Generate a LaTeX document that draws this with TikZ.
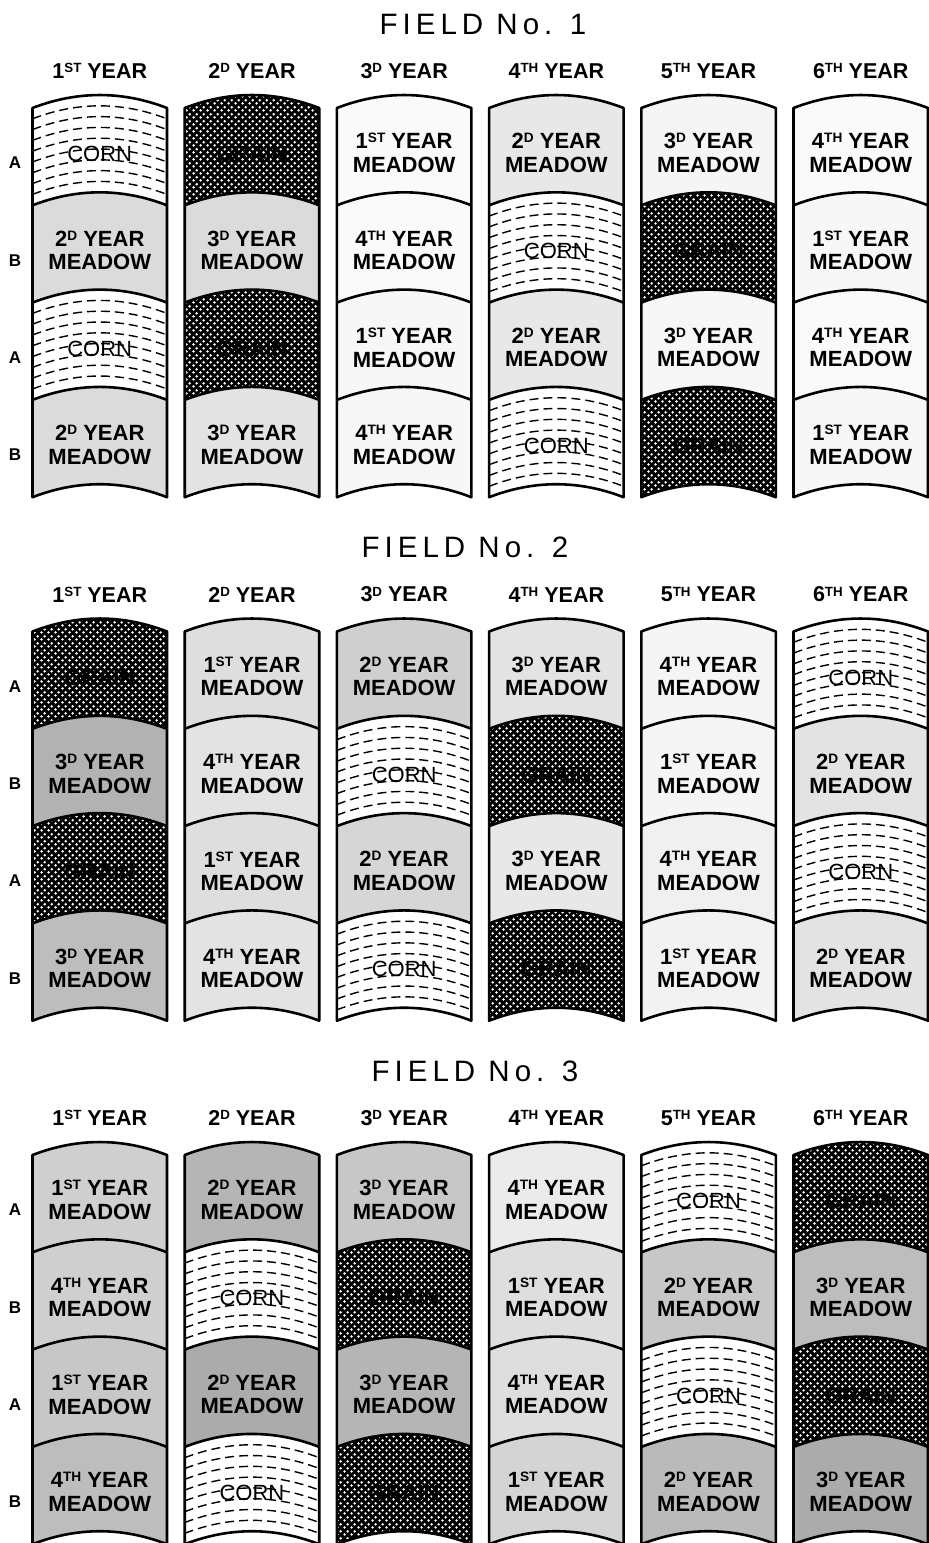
\documentclass[tikz,border=0pt]{standalone}
\usepackage{fontspec}
\setmainfont{Liberation Sans}
\newfontfamily\titlefont[LetterSpace=17]{Liberation Sans}
\usepackage{graphicx}
\usetikzlibrary{patterns}

% white holes of the grain screen
\pgfdeclarepatternformonly{grainnet}{\pgfqpoint{0pt}{0pt}}{\pgfqpoint{6.6pt}{6.6pt}}{\pgfqpoint{6.6pt}{6.6pt}}{%
  \pgfpathcircle{\pgfqpoint{1.65pt}{1.65pt}}{1.45pt}%
  \pgfpathcircle{\pgfqpoint{4.95pt}{4.95pt}}{1.45pt}%
  \pgfusepath{fill}}

% small raised letters of 1ST, 2D, 4TH ...
\newcommand{\upc}[1]{\raisebox{0.272em}{\scalebox{0.62}{#1}}}

% one cell of a strip, left edge \L, top edge \Y
\newcommand{\cellpath}{(\L,\Y) .. controls (\L+44.8,\Y-17.3) and (\L+89.7,\Y-17.3) .. (\L+134.5,\Y)
  -- (\L+134.5,\Y+97.3) .. controls (\L+89.7,\Y+80) and (\L+44.8,\Y+80) .. (\L,\Y+97.3) -- cycle}
\newcommand{\cellname}{c\F-\cid-\rid}

\newcommand{\corn}{%
  \fill[white] \cellpath;
  \foreach \k in {1,...,8}
    \draw[cornline] (\L,\Y+10.8*\k) .. controls (\L+44.8,\Y+10.8*\k-17.3)
      and (\L+89.7,\Y+10.8*\k-17.3) .. (\L+134.5,\Y+10.8*\k);
  \node[corntext] (\cellname) at (\L+67.25,\Y+46) {CORN};}
\newcommand{\grain}{%
  \fill[black] \cellpath;
  \fill[pattern=grainnet,pattern color=white] \cellpath;
  \node[graintext] (\cellname) at (\L+67.25,\Y+46) {GRAIN};}
\newcommand{\mead}[3]{% ordinal, its letters, grey of the print
  \fill[black!#3] \cellpath;
  \node[meadtext] (\cellname) at (\L+67.25,\Y+45) {#1\upc{#2} YEAR\\MEADOW};}

% one year column: index, then the four cells A, B, A, B
\newcommand{\cropstrip}[5]{%
  \pgfmathsetmacro\L{32.5+152.2*#1}\def\cid{#1}%
  \def\Y{108}\def\rid{1}#2%
  \def\Y{205.3}\def\rid{2}#3%
  \def\Y{302.6}\def\rid{3}#4%
  \def\Y{399.9}\def\rid{4}#5%
  \draw[rim] (\L,108) .. controls (\L+44.8,90.7) and (\L+89.7,90.7) .. (\L+134.5,108)
    -- (\L+134.5,497.2) .. controls (\L+89.7,479.9) and (\L+44.8,479.9) .. (\L,497.2) -- cycle;
  \foreach \k in {1,2,3}
    \draw[rim] (\L,108+97.3*\k) .. controls (\L+44.8,90.7+97.3*\k)
      and (\L+89.7,90.7+97.3*\k) .. (\L+134.5,108+97.3*\k);}

% title, year heads and row letters of one field
\newcommand{\fieldhead}[2]{%
  \node[titletext] (title#1) at (#2,24) {FIELD No. #1};
  \foreach \i/\n/\s in {0/1/ST,1/2/D,2/3/D,3/4/TH,4/5/TH,5/6/TH}
    \node[yearhead] (head#1-\i) at (99.75+152.2*\i,71) {\n\upc{\s} YEAR};
  \foreach \k/\r in {0/A,1/B,2/A,3/B}
    \node[rowlab] (lab#1-\k) at (15,163+97.3*\k) {\r};}

\begin{document}
\begin{tikzpicture}[x=1pt,y=-1pt,
  rim/.style={line width=2.6pt,line join=round},
  cornline/.style={line width=1.4pt,dash pattern=on 9pt off 5pt},
  titletext/.style={inner sep=0pt,font=\titlefont\fontsize{29.5}{32}\selectfont},
  yearhead/.style={inner sep=0pt,font=\bfseries\fontsize{21.5}{24}\selectfont},
  rowlab/.style={inner sep=0pt,font=\bfseries\fontsize{17}{20}\selectfont},
  meadtext/.style={inner sep=0pt,align=center,font=\bfseries\fontsize{22}{23.5}\selectfont},
  graintext/.style={inner sep=0pt,font=\bfseries\fontsize{22}{24}\selectfont},
  corntext/.style={inner sep=0pt,font=\fontsize{22}{24}\selectfont}]
  \useasboundingbox[fill=white] (0,0) rectangle (929,1543);
  % field no. 1
  \begin{scope}
    \def\F{1}
    \cropstrip{0}{\corn}{\mead{2}{D}{14}}{\corn}{\mead{2}{D}{14}}
    \cropstrip{1}{\grain}{\mead{3}{D}{14}}{\grain}{\mead{3}{D}{11}}
    \cropstrip{2}{\mead{1}{ST}{2}}{\mead{4}{TH}{2}}{\mead{1}{ST}{3}}{\mead{4}{TH}{3}}
    \cropstrip{3}{\mead{2}{D}{9}}{\corn}{\mead{2}{D}{9}}{\corn}
    \cropstrip{4}{\mead{3}{D}{4}}{\grain}{\mead{3}{D}{3}}{\grain}
    \cropstrip{5}{\mead{4}{TH}{2}}{\mead{1}{ST}{3}}{\mead{4}{TH}{2}}{\mead{1}{ST}{3}}
    \fieldhead{1}{483}
  \end{scope}
  % field no. 2
  \begin{scope}[yshift=-523.5pt]
    \def\F{2}
    \cropstrip{0}{\grain}{\mead{3}{D}{30}}{\grain}{\mead{3}{D}{26}}
    \cropstrip{1}{\mead{1}{ST}{13}}{\mead{4}{TH}{11}}{\mead{1}{ST}{13}}{\mead{4}{TH}{11}}
    \cropstrip{2}{\mead{2}{D}{19}}{\corn}{\mead{2}{D}{16}}{\corn}
    \cropstrip{3}{\mead{3}{D}{11}}{\grain}{\mead{3}{D}{9}}{\grain}
    \cropstrip{4}{\mead{4}{TH}{4}}{\mead{1}{ST}{4}}{\mead{4}{TH}{6}}{\mead{1}{ST}{5}}
    \cropstrip{5}{\corn}{\mead{2}{D}{11}}{\corn}{\mead{2}{D}{11}}
    \fieldhead{2}{465}
  \end{scope}
  % field no. 3
  \begin{scope}[yshift=-1047pt]
    \def\F{3}
    \cropstrip{0}{\mead{1}{ST}{19}}{\mead{4}{TH}{19}}{\mead{1}{ST}{22}}{\mead{4}{TH}{26}}
    \cropstrip{1}{\mead{2}{D}{29}}{\corn}{\mead{2}{D}{33}}{\corn}
    \cropstrip{2}{\mead{3}{D}{22}}{\grain}{\mead{3}{D}{29}}{\grain}
    \cropstrip{3}{\mead{4}{TH}{8}}{\mead{1}{ST}{13}}{\mead{4}{TH}{13}}{\mead{1}{ST}{17}}
    \cropstrip{4}{\corn}{\mead{2}{D}{22}}{\corn}{\mead{2}{D}{27}}
    \cropstrip{5}{\grain}{\mead{3}{D}{26}}{\grain}{\mead{3}{D}{33}}
    \fieldhead{3}{475}
  \end{scope}
\end{tikzpicture}
\end{document}
